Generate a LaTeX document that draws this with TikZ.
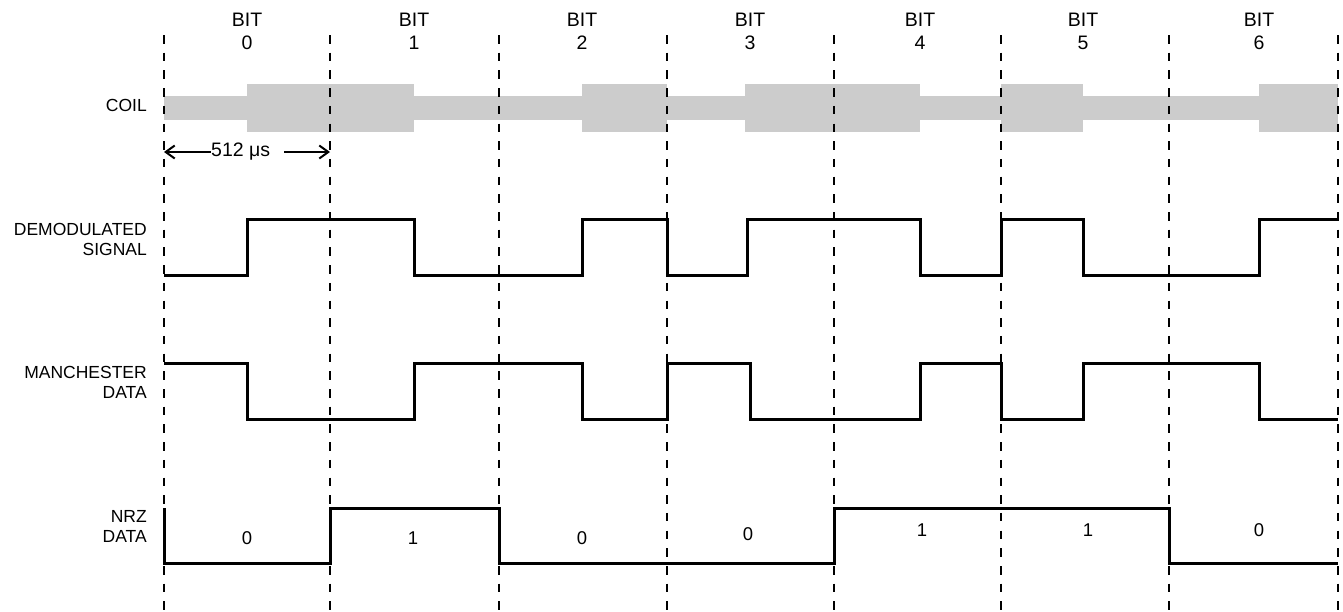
\documentclass[tikz,border=0pt]{standalone}
\usepackage{fontspec}
\setmainfont{Liberation Sans}
\usetikzlibrary{arrows.meta}
\definecolor{coilgray}{HTML}{CCCCCC}
\begin{document}
\begin{tikzpicture}[x=1pt,y=-1pt,
  lbl/.style={font=\fontsize{17.5}{20}\selectfont, align=right, anchor=east, inner sep=0pt},
  bitlbl/.style={font=\fontsize{19.5}{23}\selectfont, align=center, inner sep=0pt},
  val/.style={font=\fontsize{18.5}{20}\selectfont, inner sep=0pt},
  gridline/.style={line width=1.6pt, dash pattern=on 8.5pt off 9.2pt},
  sig/.style={line width=3pt, line join=miter},
  dimarrow/.style={line width=2pt, -{Straight Barb[length=9pt,width=13pt]}}]
\useasboundingbox (0,0) rectangle (1343,611);

% coil envelope
\fill[coilgray] (164,96) rectangle (1338,120);
\fill[coilgray] (247,84) rectangle (414,132);
\fill[coilgray] (582,84) rectangle (667,132);
\fill[coilgray] (745,84) rectangle (920,132);
\fill[coilgray] (1001,84) rectangle (1083,132);
\fill[coilgray] (1259,84) rectangle (1338,132);

% bit boundaries
\foreach \x in {164,330,499,667,834,1001,1169,1338}
  \draw[gridline] (\x,35) -- (\x,611);

% bit headers
\foreach \x/\n/\name in {247/0/b0,414/1/b1,582/2/b2,750/3/b3,920/4/b4,1083/5/b5,1259/6/b6}
  \node[bitlbl] (\name) at (\x,31.5) {BIT\\\n};

% row labels
\node[lbl] (coil) at (147,105) {COIL};
\node[lbl] (demod) at (147,239) {DEMODULATED\\SIGNAL};
\node[lbl] (manch) at (147,382.5) {MANCHESTER\\DATA};
\node[lbl] (nrz) at (147,526.5) {NRZ\\DATA};

% 512 us dimension
\coordinate (aL) at (164,152);
\coordinate (aR) at (330,152);
\coordinate (aRs) at (284,152);
\node[font=\fontsize{19.5}{22}\selectfont, inner sep=0pt, anchor=west] (t512) at (211,152) {512 μs};
\draw[dimarrow] (t512.west) -- (aL);
\draw[dimarrow] (aRs) -- (aR);

% demodulated signal
\draw[sig] (164,275) -| (247,219) -| (414,275) -| (582,219) -| (667,275)
  -| (747,219) -| (920,275) -| (1001,219) -| (1083,275) -| (1259,219) -- (1338,219);

% manchester data
\draw[sig] (164,363) -| (247,419) -| (414,363) -| (582,419) -| (667,363)
  -| (750,419) -| (920,363) -| (1001,419) -| (1083,363) -| (1259,419) -- (1338,419);

% NRZ data
\draw[sig] (164,508) -- (164,563) -| (330,508) -| (499,563) -| (834,508)
  -| (1169,563) -- (1338,563);

% NRZ values
\node[val] (v0) at (247,538) {0};
\node[val] (v1) at (413,538) {1};
\node[val] (v2) at (582,538) {0};
\node[val] (v3) at (748,534) {0};
\node[val] (v4) at (922,530) {1};
\node[val] (v5) at (1088,530) {1};
\node[val] (v6) at (1259,530) {0};
\end{tikzpicture}
\end{document}
